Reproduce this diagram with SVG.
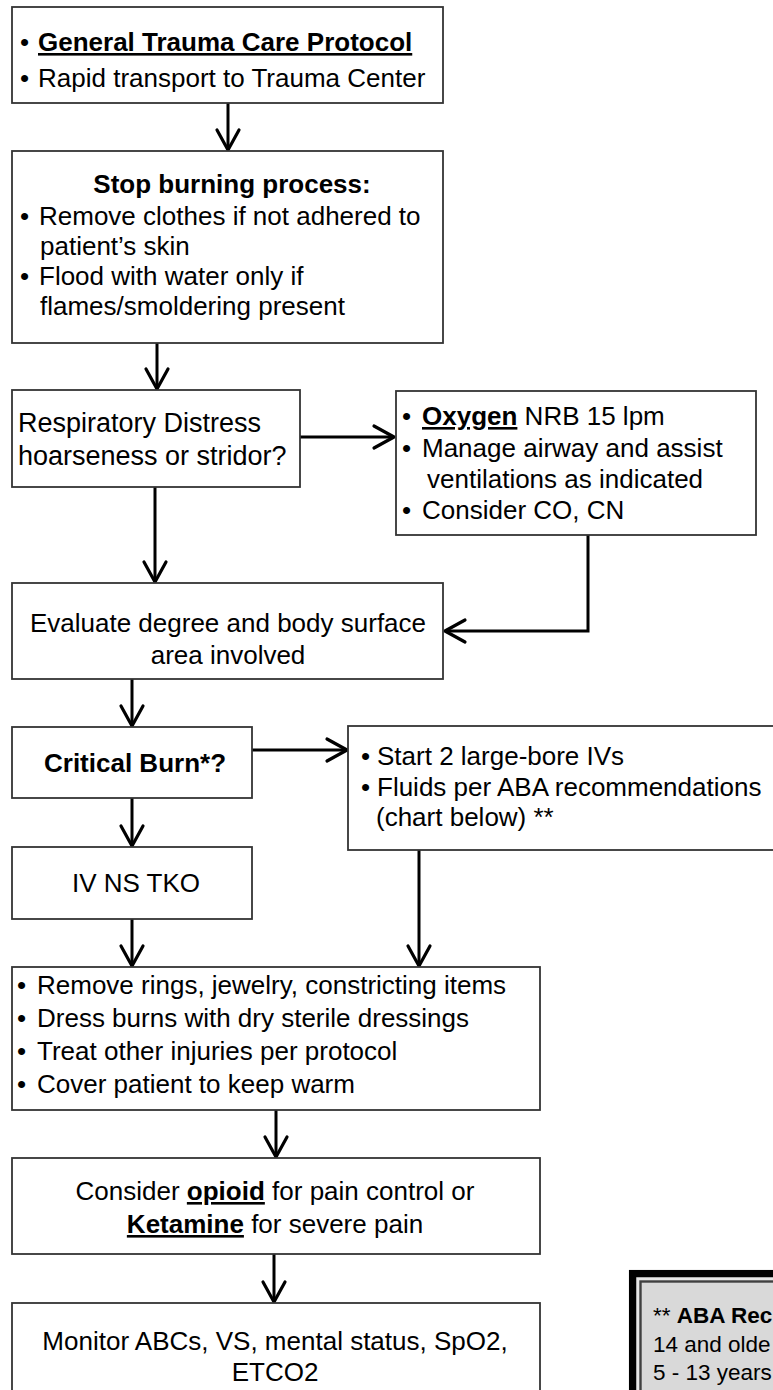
<svg xmlns="http://www.w3.org/2000/svg" width="773" height="1390" viewBox="0 0 773 1390">
  <style>
    .box { fill: #fff; stroke: #333; stroke-width: 1.8; }
    text { font-family: "Liberation Sans", Arial, sans-serif; font-size: 26px; fill: #000; }
    .b { font-weight: bold; }
    .u { text-decoration: underline; }
    .c { text-anchor: middle; }
    .big { font-size: 27px; }
    .aba { font-size: 22.5px; }
    .conn { fill: none; stroke: #000; stroke-width: 3; }
  </style>
  <defs>
    <marker id="arrow" markerUnits="userSpaceOnUse" markerWidth="26" markerHeight="28" viewBox="0 0 26 28" refX="22" refY="14" orient="auto" overflow="visible">
      <path d="M2,3 L22,14 L2,25" fill="none" stroke="#000" stroke-width="3.2" stroke-linejoin="round" stroke-linecap="round"/>
    </marker>
  </defs>

  <rect width="773" height="1390" fill="#fff"/>

  <!-- flow connectors -->
  <g id="connectors" class="conn">
    <path d="M228,103 V150" marker-end="url(#arrow)"/>
    <path d="M157,343 V389" marker-end="url(#arrow)"/>
    <path d="M300,437 H394" marker-end="url(#arrow)"/>
    <path d="M155,487 V582" marker-end="url(#arrow)"/>
    <path d="M588,535 V631 H445" marker-end="url(#arrow)"/>
    <path d="M132,679 V726" marker-end="url(#arrow)"/>
    <path d="M252,750 H347" marker-end="url(#arrow)"/>
    <path d="M132,798 V846" marker-end="url(#arrow)"/>
    <path d="M132,919 V966" marker-end="url(#arrow)"/>
    <path d="M419,850 V966" marker-end="url(#arrow)"/>
    <path d="M276,1110 V1157" marker-end="url(#arrow)"/>
    <path d="M274,1254 V1302" marker-end="url(#arrow)"/>
  </g>

  <g id="general-trauma">
    <rect class="box" x="12" y="7" width="431" height="96"/>
    <text x="20" y="51">•</text>
    <text x="38" y="51"><tspan class="b u">General Trauma Care Protocol</tspan></text>
    <text x="20" y="87">•</text>
    <text x="38" y="87">Rapid transport to Trauma Center</text>
  </g>

  <g id="stop-burning">
    <rect class="box" x="12" y="151" width="431" height="192"/>
    <text class="b c" x="232" y="193">Stop burning process:</text>
    <text x="20" y="225">•</text>
    <text x="39" y="225">Remove clothes if not adhered to</text>
    <text x="40" y="255">patient’s skin</text>
    <text x="20" y="285">•</text>
    <text x="39" y="285">Flood with water only if</text>
    <text x="40" y="315">flames/smoldering present</text>
  </g>

  <g id="respiratory">
    <rect class="box" x="12" y="390" width="288" height="97"/>
    <text class="big" x="18" y="432">Respiratory Distress</text>
    <text class="big" x="18" y="465">hoarseness or stridor?</text>
  </g>

  <g id="oxygen">
    <rect class="box" x="396" y="391" width="360" height="144"/>
    <text x="402" y="425">•</text>
    <text x="422" y="425"><tspan class="b u">Oxygen</tspan> NRB 15 lpm</text>
    <text x="402" y="457">•</text>
    <text x="422" y="457">Manage airway and assist</text>
    <text x="427" y="488">ventilations as indicated</text>
    <text x="402" y="519">•</text>
    <text x="422" y="519">Consider CO, CN</text>
  </g>

  <g id="evaluate">
    <rect class="box" x="12" y="583" width="431" height="96"/>
    <text class="c" x="228" y="632">Evaluate degree and body surface</text>
    <text class="c" x="228" y="664">area involved</text>
  </g>

  <g id="critical-burn">
    <rect class="box" x="12" y="727" width="240" height="71"/>
    <text class="b c" x="135" y="772">Critical Burn*?</text>
  </g>

  <g id="iv-access">
    <rect class="box" x="348" y="726" width="440" height="124"/>
    <text x="361" y="765">•</text>
    <text x="377" y="765">Start 2 large-bore IVs</text>
    <text x="361" y="796">•</text>
    <text x="377" y="796">Fluids per ABA recommendations</text>
    <text x="376" y="826">(chart below) **</text>
  </g>

  <g id="iv-tko">
    <rect class="box" x="12" y="847" width="240" height="72"/>
    <text class="c" x="136" y="892">IV NS TKO</text>
  </g>

  <g id="wound-care">
    <rect class="box" x="12" y="967" width="528" height="143"/>
    <text x="17" y="994">•</text>
    <text x="37" y="994">Remove rings, jewelry, constricting items</text>
    <text x="17" y="1027">•</text>
    <text x="37" y="1027">Dress burns with dry sterile dressings</text>
    <text x="17" y="1060">•</text>
    <text x="37" y="1060">Treat other injuries per protocol</text>
    <text x="17" y="1093">•</text>
    <text x="37" y="1093">Cover patient to keep warm</text>
  </g>

  <g id="pain-control">
    <rect class="box" x="12" y="1158" width="528" height="96"/>
    <text class="c" x="275" y="1200">Consider <tspan class="b u">opioid</tspan> for pain control or</text>
    <text class="c" x="275" y="1233"><tspan class="b u">Ketamine</tspan> for severe pain</text>
  </g>

  <g id="monitor">
    <rect class="box" x="12" y="1303" width="528" height="120"/>
    <text class="c" x="275" y="1350">Monitor ABCs, VS, mental status, SpO2,</text>
    <text class="c" x="275" y="1381">ETCO2</text>
  </g>

  <g id="aba-chart">
    <rect x="632.6" y="1273.6" width="200" height="200" fill="#e6e6e6" stroke="#000" stroke-width="7.3"/>
    <rect x="640.5" y="1281.5" width="200" height="200" fill="#d9d9d9" stroke="#404040" stroke-width="2.4"/>
    <text class="aba" x="653" y="1323">** <tspan class="b">ABA Rec</tspan></text>
    <text class="aba" x="653" y="1352">14 and olde</text>
    <text class="aba" x="653" y="1380">5 - 13 years</text>
  </g>
</svg>
